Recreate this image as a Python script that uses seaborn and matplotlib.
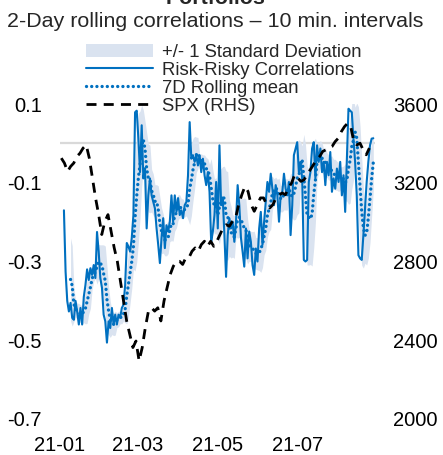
import matplotlib
matplotlib.use("Agg")
import matplotlib.pyplot as plt
import numpy as np
import pandas as pd
import seaborn as sns

# ---- data -------------------------------------------------------------
corr_start, corr_end = "2021-01-04", "2021-08-28"
risk_corr = [
    -0.170, -0.326, -0.400, -0.427, -0.405, -0.443, -0.448, -0.400, -0.427, -0.460,
    -0.418, -0.460, -0.390, -0.360, -0.320, -0.347, -0.317, -0.334, -0.309, -0.342,
    -0.225, -0.275, -0.342, -0.367, -0.435, -0.452, -0.506, -0.452, -0.469, -0.418,
    -0.460, -0.435, -0.460, -0.435, -0.443, -0.418, -0.410, -0.360, -0.253, -0.262,
    -0.275, -0.240, -0.182, 0.079,
    0.083, 0.012, -0.073, 0.046, -0.089, -0.063, -0.216, -0.132, -0.089, -0.132,
    -0.149, -0.165, -0.216, -0.258, -0.304, -0.240, -0.190, -0.266, -0.208, -0.224,
    -0.199, -0.132, -0.199, -0.132, -0.174, -0.139, -0.182, -0.170, -0.190, -0.157,
    -0.149, -0.081, 0.054, -0.039, -0.030, -0.047, -0.030, -0.056, -0.030, -0.073,
    -0.039, -0.081, -0.106, -0.073, -0.123, -0.250, -0.224, -0.182,
    -0.098, -0.216, -0.005, -0.157, -0.139, -0.233, -0.339, -0.233, -0.190, -0.216,
    -0.199, -0.250, -0.199, -0.106, -0.157, -0.240, -0.275, -0.313, -0.216, -0.292,
    -0.224, -0.250, -0.309, -0.334, -0.267, -0.300, -0.216, -0.174, -0.258, -0.199,
    -0.149, -0.098, -0.123, -0.077, -0.115, -0.157, -0.106, -0.132, -0.199, -0.132,
    -0.123, -0.077, -0.115, -0.132, -0.098, -0.233,
    -0.157, -0.030, -0.013, 0.003, -0.073, -0.047, -0.089, -0.296, -0.300, -0.296,
    -0.098, -0.073, -0.013, 0.003, -0.089, -0.005, -0.047, -0.013, -0.073, -0.047,
    -0.106, -0.047, -0.081, -0.022, -0.123, -0.089, -0.115, -0.064, -0.098, -0.047,
    -0.132, -0.081, -0.174, -0.039, 0.088, 0.083, 0.079, 0.012, -0.047, -0.132,
    -0.284, -0.292, -0.296, -0.233, -0.165, -0.098, -0.047, -0.005, 0.012, 0.013,
]

spx_start, spx_end = "2021-01-02", "2021-08-25"
spx = [
    3325, 3300, 3257, 3283, 3300, 3333, 3350, 3376, 3392, 3325,
    3224, 3123, 3038, 2937, 3004, 3038, 2953, 2869, 2801, 2700,
    2599, 2498, 2430, 2363, 2396, 2295, 2363, 2464, 2548, 2565,
    2548, 2565, 2498, 2599, 2667, 2734, 2776, 2801, 2801, 2785,
    2819, 2819, 2852, 2869, 2852, 2886, 2903, 2877, 2903, 2877,
    2903, 2937, 2971, 2987, 2979, 3004, 3021, 3089, 3139, 3181,
    3156, 3089, 3055, 3089, 3123, 3123, 3089, 3072, 3089, 3123,
    3139, 3148, 3139, 3173, 3199, 3241, 3224, 3207, 3215, 3241,
    3266, 3291, 3316, 3333, 3359, 3367, 3376, 3384, 3409, 3426,
    3460, 3485, 3502, 3485, 3409, 3392, 3401, 3367, 3342, 3376,
]

tick_dates = ["2021-01-01", "2021-03-01", "2021-05-01", "2021-07-01"]
tick_labels = ["21-01", "21-03", "21-05", "21-07"]
left_ticks = [-0.7, -0.5, -0.3, -0.1, 0.1]
right_ticks = [2000, 2400, 2800, 3200, 3600]

labels = ["+/- 1 Standard Deviation", "Risk-Risky Correlations",
          "7D Rolling mean", "SPX (RHS)"]

# ---- derived series ---------------------------------------------------
corr = pd.Series(risk_corr,
                 index=pd.date_range(corr_start, corr_end, periods=len(risk_corr)))
roll = corr.rolling("7D", min_periods=5)
roll_mean = roll.mean()
roll_std = roll.std()
valid = roll_mean.notna() & roll_std.notna()
spx_s = pd.Series(spx, index=pd.date_range(spx_start, spx_end, periods=len(spx)))

# ---- style ------------------------------------------------------------
sns.set_style("white")
plt.rcParams["font.family"] = ["Liberation Sans", "DejaVu Sans"]
FS_LEG = 13.3
FS_TICK = 14.5
FS_TITLE = 15.4
BLUE = "#0070c0"
BAND = "#dae3f0"

W, H = 443, 455
fig = plt.figure(figsize=(W / 100, H / 100), dpi=100)
ax = fig.add_axes([60 / W, 1 - 419 / H, 315 / W, 315 / H])

ax.axhline(0, color="#d9d9d9", lw=1.6, zorder=0)
ax.fill_between(roll_mean.index[valid],
                (roll_mean - roll_std)[valid], (roll_mean + roll_std)[valid],
                color=BAND, lw=0, zorder=1, label=labels[0])
sns.lineplot(x=corr.index, y=corr.values, ax=ax, color=BLUE, lw=1.5,
             zorder=3, label=labels[1])
sns.lineplot(x=roll_mean.index[valid], y=roll_mean[valid].values, ax=ax,
             color=BLUE, lw=2.4, linestyle=(0, (0.01, 1.55)),
             dash_capstyle="round", zorder=4, label=labels[2])

ax2 = ax.twinx()
sns.lineplot(x=spx_s.index, y=spx_s.values, ax=ax2, color="black", lw=2.0,
             linestyle=(0, (3.6, 2.6)), zorder=5, label=labels[3])

ax.set_xlim(pd.Timestamp("2021-01-01 18:00"), pd.Timestamp("2021-08-29 07:00"))
ax.set_ylim(-0.7, 0.1)
ax2.set_ylim(2000, 3600)
ax.set_xticks(pd.to_datetime(tick_dates))
ax.set_xticklabels(tick_labels)
ax.set_yticks(left_ticks)
ax.set_yticklabels([f"{v:.1f}" for v in left_ticks])
ax2.set_yticks(right_ticks)
ax2.set_yticklabels([str(v) for v in right_ticks])
ax.set_xlabel("")
ax.set_ylabel("")
ax2.set_ylabel("")

for a in (ax, ax2):
    a.tick_params(length=0, labelsize=FS_TICK, colors="black")
    for s in a.spines.values():
        s.set_visible(False)
    a.grid(False)
    a.patch.set_visible(False)
ax.tick_params(axis="y", pad=13)
ax.tick_params(axis="x", pad=12)
ax2.tick_params(axis="y", pad=13)

h1, l1 = ax.get_legend_handles_labels()
h2, l2 = ax2.get_legend_handles_labels()
for a in (ax, ax2):
    if a.get_legend() is not None:
        a.get_legend().remove()
fig.legend(h1 + h2, l1 + l2, loc="upper left",
           bbox_to_anchor=(86 / W, 1 - 44 / H), frameon=False,
           borderpad=0, borderaxespad=0, handlelength=3.6,
           handletextpad=0.5, labelspacing=0.05, fontsize=FS_LEG)

fig.text(216 / W, 1 - 4 / H, "Portfolios", ha="center", va="baseline",
         fontsize=FS_TITLE, fontweight="bold")
fig.text(215.5 / W, 1 - 27 / H,
         "2-Day rolling correlations \u2013 10 min. intervals",
         ha="center", va="baseline", fontsize=FS_TITLE)

fig.savefig("out.png", dpi=100)
